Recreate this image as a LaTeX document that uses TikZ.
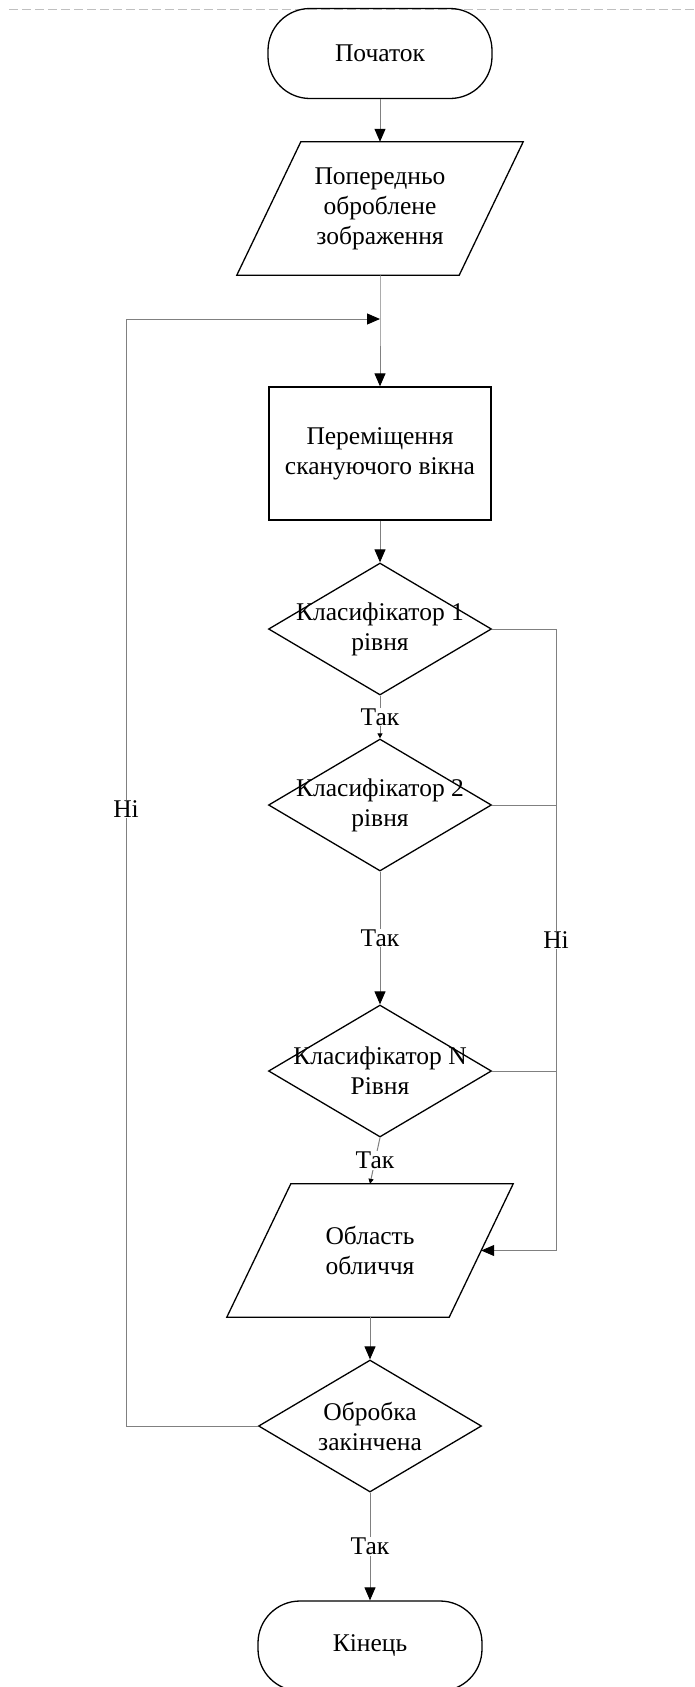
\documentclass[tikz,border=0pt]{standalone}
\usepackage{fontspec}
\setmainfont{Liberation Serif}
\usetikzlibrary{shapes.geometric,arrows.meta,positioning}
\definecolor{linegray}{RGB}{128,128,128}

\begin{document}
\begin{tikzpicture}[x=1pt,y=-1pt,>={Triangle[length=13pt,width=11pt,color=black]},
    font=\fontsize{25.5}{30}\selectfont,
    term/.style={draw,line width=1.3pt,rounded corners=42pt,minimum width=224pt,minimum height=90pt},
    io/.style={minimum width=222pt,minimum height=133pt,align=center},
    proc/.style={draw,line width=1.3pt,minimum width=222pt,minimum height=133pt,align=center},
    cond/.style={draw,line width=1.3pt,diamond,inner sep=0pt,minimum width=223pt,minimum height=132pt},
    conn/.style={draw=linegray,line width=1pt},
    lbl/.style={fill=white,inner sep=1pt},
    smalltip/.style={-{Triangle[length=5pt,width=5pt,color=black]}}]
\useasboundingbox (0,0) rectangle (694,1687);
\draw[gray!50,dash pattern=on 9pt off 4pt](9,9)--(694,9);

\node[term] (start) at (380,53.5) {Початок};
\node[io] (in1) at (380,208.5) {Попередньо\\оброблене\\зображення};
\node[proc] (move) at (380,453.5) {Переміщення\\сканую\-чого вікна};
\node[cond,label={[align=center]center:Класифікатор 1\\рівня}] (d1) at (380,629) {};
\node[cond,label={[align=center]center:Класифікатор 2\\рівня}] (d2) at (380,805) {};
\node[cond,label={[align=center]center:Класифікатор N\\Рівня}] (dN) at (380,1071) {};
\node[io] (in2) at (370,1250.5) {Область\\обличчя};
\node[cond,label={[align=center]center:Обробка\\закінчена}] (dEnd) at (370,1426) {};
\node[term] (stop) at (370,1646) {Кінець};

% parallelograms round the io nodes
\foreach \n in {in1,in2}
{
    \draw[line width=1.3pt]([xshift=32pt]\n.north west)--([xshift=32pt]\n.north east)
        --([xshift=-32pt]\n.south east)--([xshift=-32pt]\n.south west)--cycle;
}

\coordinate (jn) at (380,319);
\coordinate (lp) at (126,319);
\coordinate (rb) at (556,0);

\draw[conn,->](start.south)--(in1.north);
\draw[conn,->](in1.south)--(jn)--(move.north);
\draw[conn,->](move.south)--(d1.north);
\draw[conn,smalltip](d1.south)--node[lbl](yes1){Так}(d2.north);
\draw[conn,->](d2.south)--node[lbl](yes2){Так}(dN.north);
\draw[conn,smalltip](dN.south)--node[lbl](yes3){Так}(in2.north);
\draw[conn,->](in2.south)--(dEnd.north);
\draw[conn,->](dEnd.south)--node[lbl](yes4){Так}(stop.north);

\draw[conn,->](dEnd.west)-|(lp)--(jn);
\node[lbl] (no1) at (126,809) {Ні};

\draw[conn,->](d1.east)-|(rb |- in2.east)--(in2.east);
\foreach \d in {d2,dN}
{
    \draw[conn](\d.east)--(\d.east -| rb);
}
\node[lbl] (no2) at (556,940) {Ні};
\end{tikzpicture}
\end{document}
